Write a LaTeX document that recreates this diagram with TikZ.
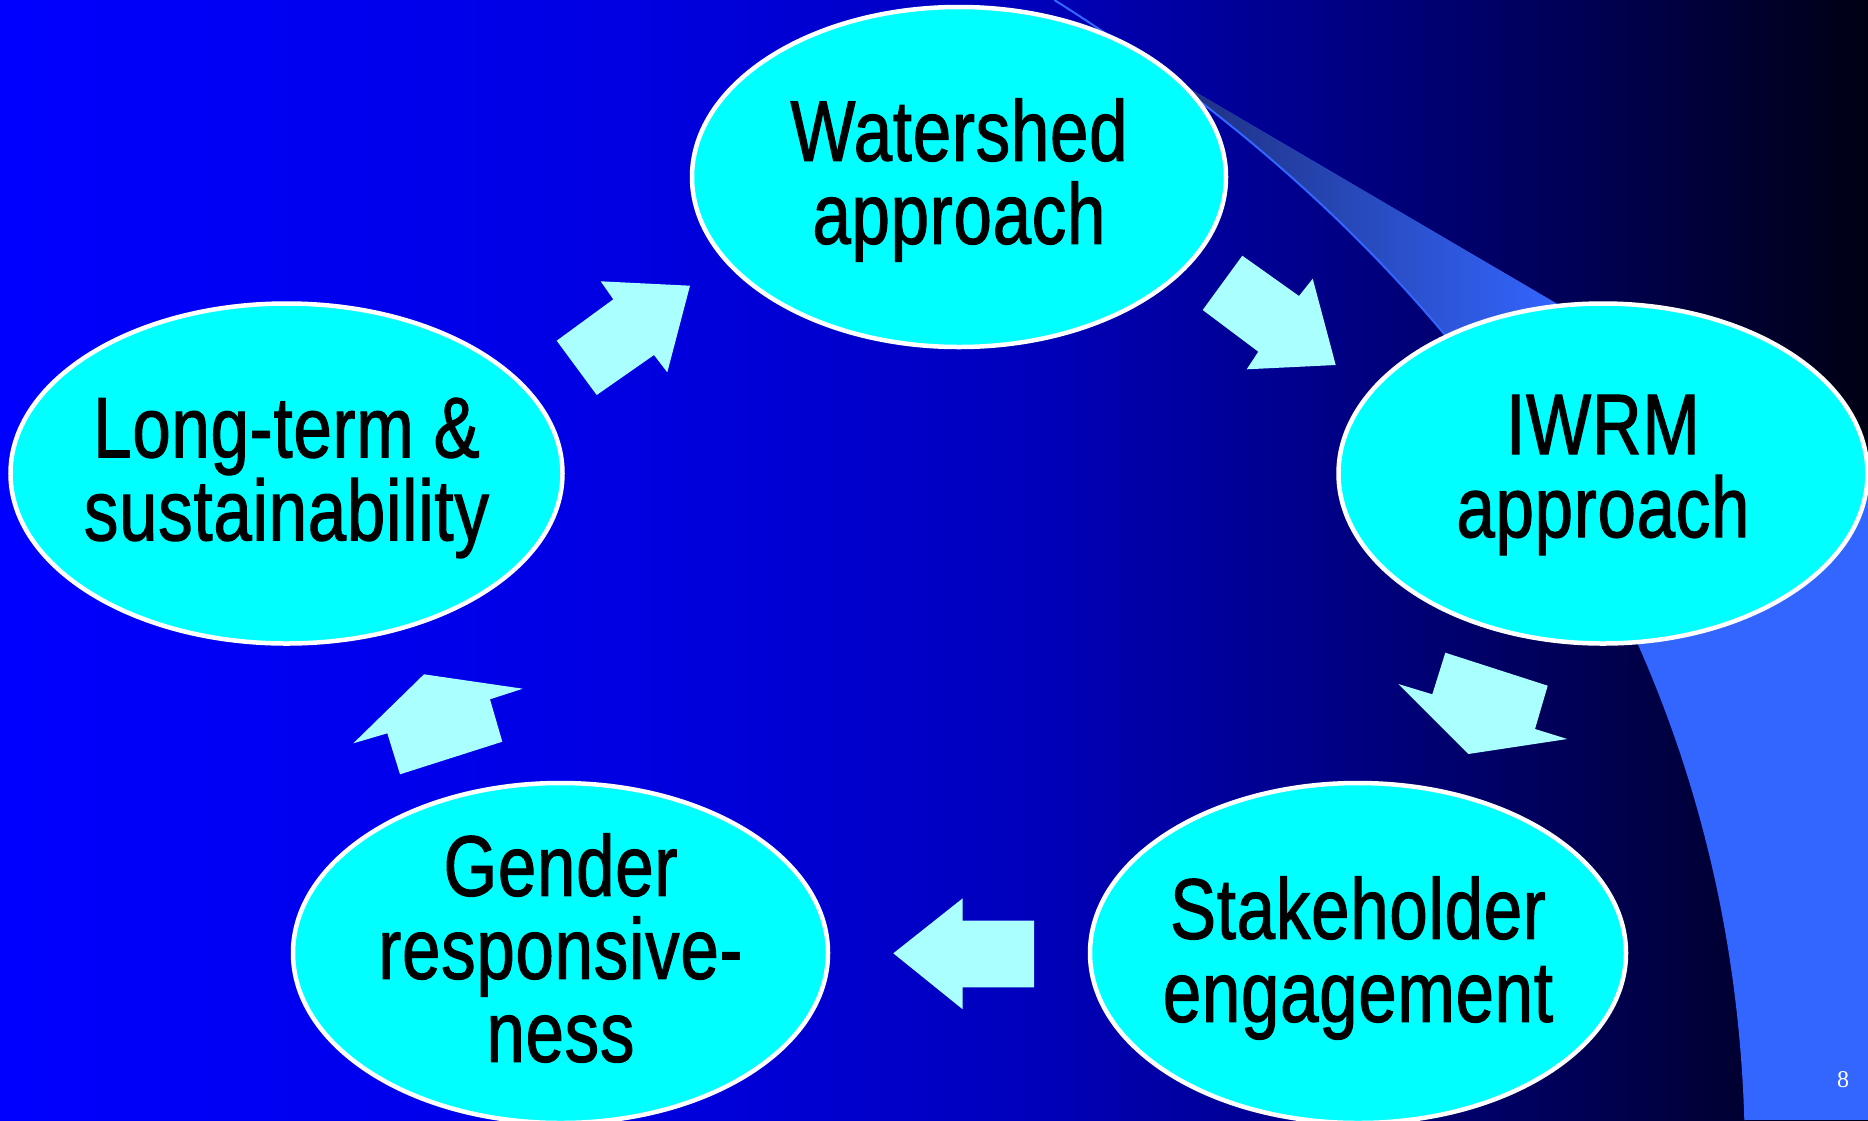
\documentclass[tikz,border=0pt]{standalone}
\usepackage{fontspec}
\setmainfont{Liberation Sans}[FakeStretch=0.8,FakeBold=1.3,LetterSpace=1]
\newfontfamily\pagefont{Liberation Serif}
\usetikzlibrary{shapes.geometric}
\definecolor{bgA}{RGB}{0,0,255}
\definecolor{bgB}{RGB}{0,0,225}
\definecolor{bgC}{RGB}{0,0,188}
\definecolor{bgD}{RGB}{0,0,135}
\definecolor{bgE}{RGB}{0,0,75}
\definecolor{bgF}{RGB}{0,0,20}
\definecolor{bubblecyan}{RGB}{0,255,255}
\definecolor{arrowcyan}{RGB}{170,255,255}
\definecolor{decoblue}{RGB}{51,102,255}
\definecolor{wedgeL}{RGB}{30,48,128}
\pgfdeclarehorizontalshading{bgshade}{100bp}{color(0bp)=(bgA); color(25bp)=(bgA); color(42bp)=(bgB); color(52.5bp)=(bgC); color(60.5bp)=(bgD); color(68.5bp)=(bgE); color(75bp)=(bgF); color(100bp)=(bgF)}
\begin{document}
\begin{tikzpicture}[x=1pt,y=-1pt,
  bubble/.style={ellipse, draw=white, line width=4.5pt, fill=bubblecyan, inner sep=0pt, minimum height=340pt},
  lbl/.style={font=\fontsize{86}{83}\selectfont, align=center, text=black, inner sep=0pt},
  blockarrow/.style={fill=arrowcyan},
  decoline/.style={draw=decoblue, line width=2pt}]
\useasboundingbox (0,0) rectangle (1868,1120);
\shade[shading=bgshade] (0,0) rectangle (1868,1120);
% decorative swoosh
\begin{scope}
\clip (1054.3,0) .. controls (1471.3,262.1) and (1731,643.3) .. (1745.3,1120) -- (1868,1120) -- (1868,486) -- (1168,76) -- cycle;
\fill[decoblue] (1000,0) rectangle (1868,1120);
\fill[wedgeL] (1000,0) rectangle (1180,430);
\shade[left color=wedgeL, right color=decoblue] (1180,0) rectangle (1560,430);
\end{scope}
\draw[decoline] (1054.3,0) .. controls (1471.3,262.1) and (1731,643.3) .. (1745.3,1120);
% block arrows
\fill[blockarrow] (690,285.7) -- (667.3,372.3) -- (654,355) -- (596.7,395) -- (556.7,340.7) -- (613.3,299.3) -- (600.7,281.3) -- cycle;
\fill[blockarrow] (1242.3,255.7) -- (1299,296) -- (1312.7,278.7) -- (1335.7,365) -- (1246.7,369.3) -- (1258.3,351.7) -- (1202.7,310) -- cycle;
\fill[blockarrow] (1445.3,652.7) -- (1547.7,685.7) -- (1535,729) -- (1567.3,739) -- (1468.3,754) -- (1398.3,684) -- (1432.3,694.3) -- cycle;
\fill[blockarrow] (893.3,953.3) -- (962.7,898.3) -- (962.7,920.7) -- (1034,920.7) -- (1034,987.3) -- (962.7,987.3) -- (962.7,1009.3) -- cycle;
\fill[blockarrow] (424,674.3) -- (522.7,688.7) -- (490,699.3) -- (502.3,741.7) -- (400,774.3) -- (387.3,733.3) -- (353.3,743.3) -- cycle;
% ellipses
\node[bubble, minimum width=534pt] (ws) at (959,177) {};
\node[bubble, minimum width=552pt] (lt) at (286.5,473.5) {};
\node[bubble, minimum width=529pt] (iw) at (1603,473.5) {};
\node[bubble, minimum width=535pt] (gr) at (560.5,953) {};
\node[bubble, minimum width=536pt] (sk) at (1358,953) {};
% labels
\node[lbl] (wst) at (959,180) {Watershed\\approach};
\node[lbl] (ltt) at (286.5,478) {Long-term \&\\sustainability};
\node[lbl] (iwt) at (1603,475) {IWRM\\approach};
\node[lbl] (grt) at (560.5,948) {Gender\\responsive-\\ness};
\node[lbl] (skt) at (1358,958) {Stakeholder\\engagement};
\node[text=white, inner sep=0pt, font=\pagefont\fontsize{24}{24}\selectfont] (pg) at (1843,1080) {8};
\end{tikzpicture}
\end{document}
